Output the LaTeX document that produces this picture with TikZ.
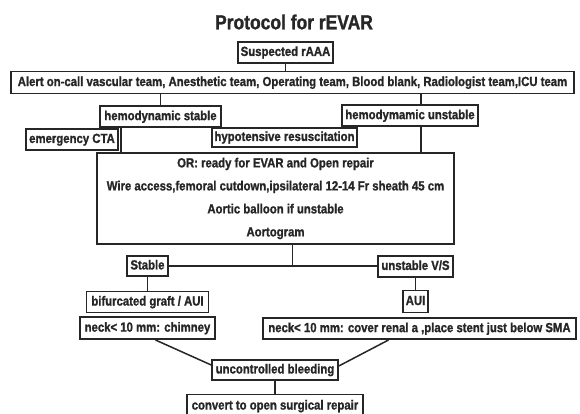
\documentclass[tikz,border=0pt]{standalone}
\usepackage{fontspec}
\setmainfont{Liberation Sans}[FakeStretch=0.86, BoldFeatures={FakeBold=1.2}]
\usetikzlibrary{positioning, calc}
\definecolor{protInk}{HTML}{262626}

\begin{document}
\begin{tikzpicture}[
  x=1pt, y=1pt,
  font=\fontsize{13.2}{15}\selectfont\bfseries, text=protInk,
  base/.style={draw=protInk, line width=1.6pt, fill=white, inner sep=0pt,
               align=center},
  box/.style={base, minimum height=21pt, text height=9.6pt, text depth=2.7pt},
  link/.style={draw=protInk, line width=1.5pt},
]
\useasboundingbox[fill=white] (0,0) rectangle (580,-414);

\node[font=\fontsize{20.3}{22}\selectfont\bfseries] (title) at (294,-22) {Protocol for rEVAR};

\node[box, minimum width=95pt] (sus) at (285.5,-52.5) {Suspected rAAA};
\node[box, minimum width=563pt, minimum height=22pt, below=7pt of sus, xshift=7pt] (alert)
  {Alert on-call vascular team, Anesthetic team, Operating team, Blood blank, Radiologist team,ICU team};
\node[box, minimum width=121pt, below right=11pt and 89pt of alert.south west] (hstab) {hemodynamic stable};
\node[box, minimum width=136pt, below left=10pt and 96pt of alert.south east] (hunst) {hemodymamic unstable};
\node[box, minimum width=92pt] (cta) at (72,-139.5) {emergency CTA};
\node[box, minimum width=145pt, minimum height=19pt] (hypo) at (284.5,-137.5) {hypotensive resuscitation};

\node[base, minimum width=357pt, minimum height=91pt,
      font=\fontsize{13.2}{23}\selectfont\bfseries] (or) at (275.5,-198.5)
  {OR: ready for EVAR and Open repair\\ Wire access,femoral cutdown,ipsilateral 12-14 Fr sheath 45 cm\\
   Aortic balloon if unstable\\ Aortogram};

\node[box, minimum width=41pt, minimum height=20pt] (stab) at (147.5,-266) {Stable};
\node[box, minimum width=75pt] (unst) at (415.5,-266.5) {unstable V/S};
\node[box, minimum width=122pt, below=14pt of stab] (bif) {bifurcated graft / AUI};
\node[box, minimum width=135pt, minimum height=22pt, below=3pt of bif] (chim) {neck\textless{} 10 mm: chimney};
\node[box, minimum width=25pt, minimum height=22pt, below=12pt of unst] (aui) {AUI};
\node[box, minimum width=313pt, below=4pt of aui, xshift=4pt] (neck)
  {neck\textless{} 10 mm: cover renal a ,place stent just below SMA};
\node[box, minimum width=126pt, minimum height=20pt] (bleed) at (275,-370) {uncontrolled bleeding};
\node[box, minimum width=176pt, minimum height=23pt, below=13pt of bleed] (conv) {convert to open surgical repair};

% branch columns
\coordinate (scol) at ([xshift=22pt]hstab.south west);
\coordinate (ucol) at ([xshift=11pt]hunst.south);

\draw[link] (sus.south) -- (sus.south |- alert.north);
\draw[link] (alert.south -| hstab.north) -- (hstab.north);
\draw[link] (alert.south -| ucol) -- (ucol |- hunst.north);
\draw[link] (scol) -- (scol |- or.north);
\draw[link] (ucol) -- (ucol |- or.north);
\draw[link] (or.south -| alert.south) -- (alert.south |- stab.east);
\draw[link] (stab.east) -- (stab.east -| unst.west);
\draw[link] (stab) -- (bif);
\draw[link] (unst) -- (aui);
\draw[link] ([xshift=8pt]chim.south) -- ([yshift=5pt]bleed.west);
\draw[link] ([xshift=-31pt]neck.south) -- ([yshift=4pt]bleed.east);
\draw[link] (bleed) -- (conv);
\end{tikzpicture}
\end{document}
